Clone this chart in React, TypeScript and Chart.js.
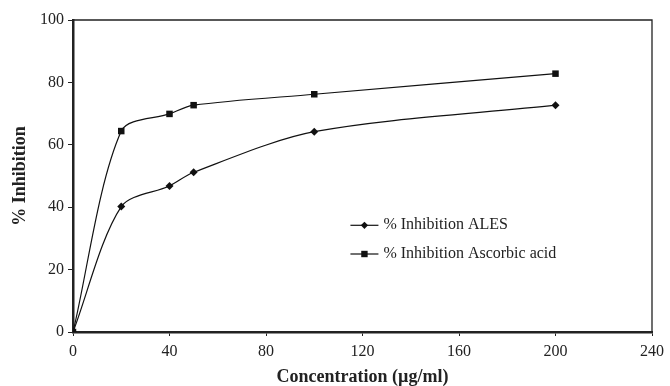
import React, { useEffect, useRef } from "react";
import { Chart, registerables } from "chart.js";

Chart.register(...registerables);

const concentrations = [0, 20, 40, 50, 100, 200];
const alesInhibition = [0, 40.2, 46.8, 51.2, 64.2, 72.7];
const ascorbicInhibition = [0, 64.4, 69.9, 72.7, 76.2, 82.8];
const seriesLabels = ["% Inhibition ALES", "% Inhibition Ascorbic acid"];
const xTitle = "Concentration (\u00b5g/ml)";
const yTitle = "% Inhibition";

const FONT = "'Liberation Serif', 'Times New Roman', serif";
const TEXT = "#222";

const frameAndLegend = {
  id: "frameAndLegend",
  afterDraw(chart: any) {
    const { ctx, chartArea } = chart;
    ctx.save();
    ctx.strokeStyle = "#222";
    ctx.lineWidth = 1.3;
    ctx.beginPath();
    ctx.moveTo(chartArea.left, chartArea.top);
    ctx.lineTo(chartArea.right, chartArea.top);
    ctx.lineTo(chartArea.right, chartArea.bottom);
    ctx.stroke();

    const xs = chart.scales.x;
    const ys = chart.scales.y;
    const lx0 = xs.getPixelForValue(115);
    const lx1 = lx0 + 28;
    const rows = [ys.getPixelForValue(34.2), ys.getPixelForValue(25)];
    chart.data.datasets.forEach((ds: any, i: number) => {
      const y = rows[i];
      ctx.strokeStyle = ds.borderColor;
      ctx.lineWidth = 1.2;
      ctx.beginPath();
      ctx.moveTo(lx0, y);
      ctx.lineTo(lx1, y);
      ctx.stroke();
      ctx.fillStyle = ds.pointBackgroundColor;
      const cx = (lx0 + lx1) / 2;
      ctx.beginPath();
      if (ds.pointStyle === "rect") {
        ctx.rect(cx - 3.2, y - 3.2, 6.4, 6.4);
      } else {
        ctx.moveTo(cx, y - 3.6);
        ctx.lineTo(cx + 3.6, y);
        ctx.lineTo(cx, y + 3.6);
        ctx.lineTo(cx - 3.6, y);
        ctx.closePath();
      }
      ctx.fill();
      ctx.fillStyle = TEXT;
      ctx.font = `16px ${FONT}`;
      ctx.textBaseline = "middle";
      ctx.textAlign = "left";
      ctx.fillText(ds.label, lx1 + 5, y);
    });
    ctx.restore();
  },
};

export default function App() {
  const ref = useRef<HTMLCanvasElement | null>(null);

  useEffect(() => {
    if (!ref.current) return;
    const toPoints = (ys: number[]) => concentrations.map((x, i) => ({ x, y: ys[i] }));
    const chart = new Chart(ref.current, {
      type: "line",
      data: {
        datasets: [
          {
            label: seriesLabels[0],
            data: toPoints(alesInhibition),
            borderColor: "#111",
            backgroundColor: "#111",
            pointBackgroundColor: "#111",
            pointBorderColor: "#111",
            pointStyle: "rectRot",
            pointRadius: 4,
            pointBorderWidth: 0,
            borderWidth: 1.2,
            tension: 0.3,
            fill: false,
          },
          {
            label: seriesLabels[1],
            data: toPoints(ascorbicInhibition),
            borderColor: "#111",
            backgroundColor: "#111",
            pointBackgroundColor: "#111",
            pointBorderColor: "#111",
            pointStyle: "rect",
            pointRadius: 4.6,
            pointBorderWidth: 0,
            borderWidth: 1.2,
            tension: 0.3,
            fill: false,
          },
        ] as any,
      },
      options: {
        animation: false,
        responsive: false,
        maintainAspectRatio: false,
        layout: { padding: { top: 20, right: 15, left: 0, bottom: 0 } },
        plugins: {
          legend: { display: false },
          tooltip: { enabled: false },
        },
        scales: {
          x: {
            type: "linear",
            min: 0,
            max: 240,
            afterFit: (s: any) => {
              s.height = 54;
            },
            ticks: {
              stepSize: 40,
              color: TEXT,
              padding: 6,
              maxRotation: 0,
              font: { family: FONT, size: 16 },
            },
            grid: {
              drawOnChartArea: false,
              drawTicks: true,
              tickLength: 4,
              color: "#222",
            },
            border: { display: true, color: "#222", width: 2.5 },
            title: {
              display: true,
              text: xTitle,
              color: TEXT,
              padding: 0,
              font: { family: FONT, size: 18, weight: "bold", lineHeight: 1 },
            },
          },
          y: {
            min: 0,
            max: 100,
            afterFit: (s: any) => {
              s.width = 73;
            },
            ticks: {
              stepSize: 20,
              color: TEXT,
              padding: 4,
              font: { family: FONT, size: 16 },
            },
            grid: {
              drawOnChartArea: false,
              drawTicks: true,
              tickLength: 5,
              color: "#222",
            },
            border: { display: true, color: "#222", width: 2.5 },
            title: {
              display: true,
              text: yTitle,
              color: TEXT,
              padding: { top: 10, bottom: 0 },
              font: { family: FONT, size: 18, weight: "bold", lineHeight: 1.2 },
            },
          },
        },
      } as any,
      plugins: [frameAndLegend],
    });
    return () => chart.destroy();
  }, []);

  return (
    <div style={{ position: "absolute", left: 0, top: 0, width: 670, height: 386, background: "#fff" }}>
      <canvas ref={ref} width={670} height={386} style={{ width: 670, height: 386, display: "block" }} />
    </div>
  );
}
